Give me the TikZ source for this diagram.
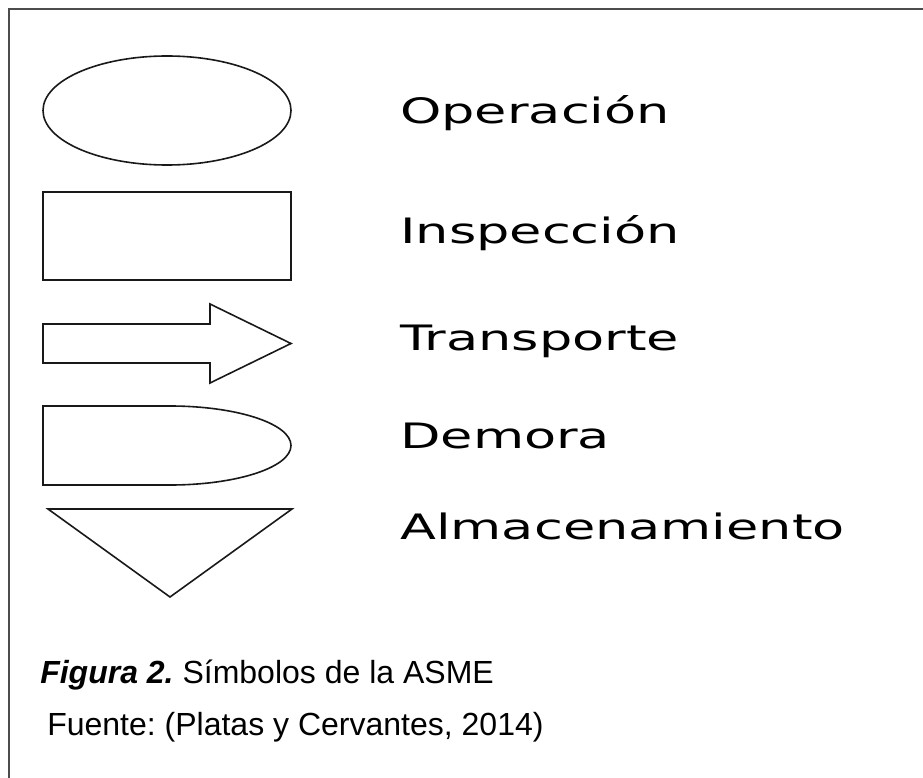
\documentclass[tikz,border=0pt]{standalone}
\usepackage{fontspec}
\newfontfamily\simbfont{DejaVu Sans}
\newfontfamily\capfont{Liberation Sans}
\usetikzlibrary{shapes.geometric}
\usetikzlibrary{positioning}
\tikzset{every picture/.style={semithick}}
\tikzstyle{symb}=[draw=black!90,line width=1.6pt]
\tikzstyle{lbl}=[anchor=base west,inner sep=0pt,font=\simbfont\fontsize{35}{40}\selectfont]
\tikzstyle{capt}=[anchor=base west,inner sep=0pt,font=\capfont\fontsize{32}{38}\selectfont]
\newcommand{\widetxt}[1]{\scalebox{1.5}[1]{#1}}
\frenchspacing
\begin{document}
\begin{tikzpicture}[x=1pt,y=1pt]
        \useasboundingbox (0,0) rectangle (923,-778);
        % frame
        \draw [black!70,line width=2pt] (930,-9.5) -- (8.5,-9.5) -- (8.5,-790);
        % symbols
        \node [symb,ellipse,minimum width=248,minimum height=109,inner sep=0pt] (op) at (167,-110.5) {};
        \node [symb,rectangle,minimum width=248,minimum height=88,inner sep=0pt] (insp) at (167,-236) {};
        \draw [symb] (43,-324) -- (210,-324) -- (210,-304) -- (291,-343.5) -- (210,-383) -- (210,-363) -- (43,-363) -- cycle;
        \draw [symb] (43,-406) -- (170,-406) arc [start angle=90,end angle=-90,x radius=121,y radius=39.5] -- (43,-485) -- cycle;
        \draw [symb] (48,-509) -- (292,-509) -- (170,-597) -- cycle;
        % labels
        \node [lbl] (lop) at (400,-124) {\widetxt{Operación}};
        \node [lbl] (linsp) at (400,-243) {\widetxt{Inspección}};
        \node [lbl] (ltra) at (400,-350) {\widetxt{Transporte}};
        \node [lbl] (ldem) at (400,-448) {\widetxt{Demora}};
        \node [lbl] (lalm) at (400,-539) {\widetxt{Almacenamiento}};
        % caption
        \node [capt] (fig) at (40,-683) {\textbf{\textit{Figura 2.}} Símbolos de la ASME};
        \node [capt] (src) at (47,-735) {Fuente: (Platas y Cervantes, 2014)};
\end{tikzpicture}
\end{document}
